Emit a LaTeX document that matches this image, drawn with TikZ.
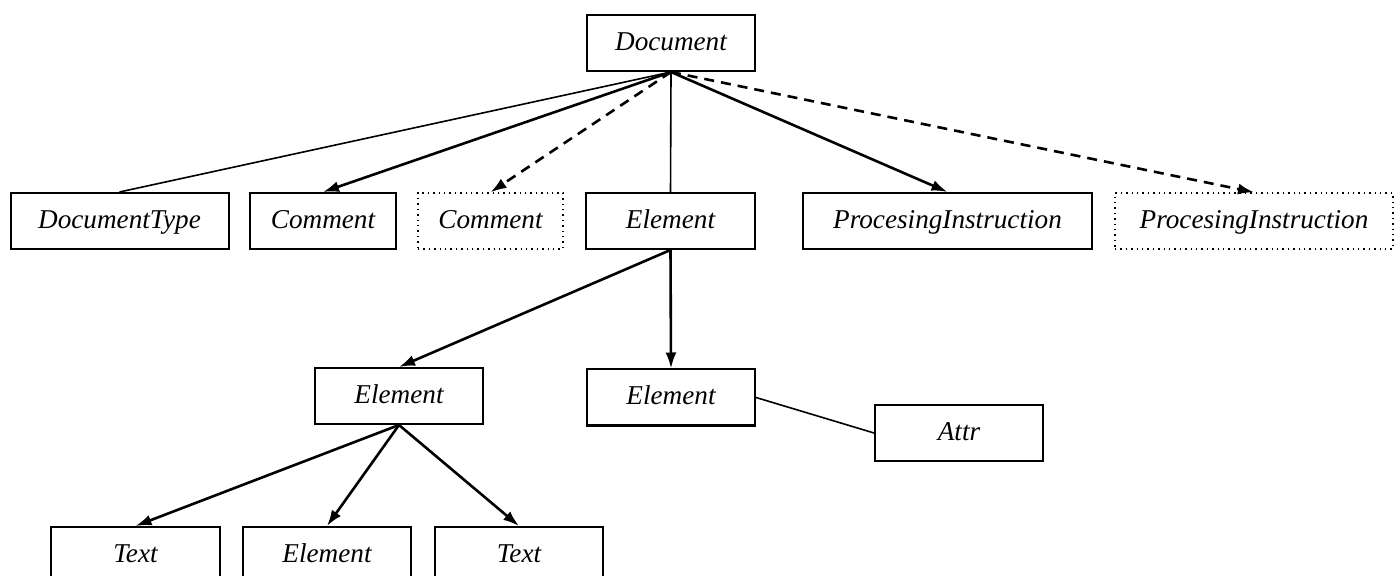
\documentclass[tikz,border=0pt]{standalone}
\usepackage{fontspec}
\setmainfont{Liberation Serif}
\usetikzlibrary{arrows.meta}
\tikzset{
  box/.style={draw, line width=1pt, rectangle, inner sep=0pt, minimum height=28pt,
    text height=9.6pt, text depth=2.4pt,
    font=\fontsize{13.6}{16}\selectfont\itshape},
  dbox/.style={box, line width=0.7pt, dotted},
  thin/.style={line width=0.8pt},
  thick arr/.style={line width=1.3pt, -{Latex[length=8pt,width=5.5pt]}},
  dash arr/.style={line width=1.3pt, dash pattern=on 5pt off 3.5pt, -{Latex[length=8pt,width=5.5pt]}}
}
\begin{document}
\begin{tikzpicture}[x=0.5pt,y=-0.5pt]
\useasboundingbox (0,0) rectangle (1395,576);
\node[box, minimum width=84pt] (doc) at (671,43) {Document};
\node[box, minimum width=109pt] (dt) at (119.5,221) {DocumentType};
\node[box, minimum width=73pt] (c1) at (323,221) {Comment};
\node[dbox, minimum width=72.5pt] (c2) at (490.5,221) {Comment};
\node[box, minimum width=84.5pt] (e1) at (670.5,221) {Element};
\node[box, minimum width=144.5pt] (pi1) at (947.5,221) {ProcesingInstruction};
\node[dbox, minimum width=139pt] (pi2) at (1254,221) {ProcesingInstruction};
\node[box, minimum width=84pt] (eL) at (399,396) {Element};
\node[box, minimum width=84pt] (eR) at (671,397.5) {Element};
\node[box, minimum width=84pt] (attr) at (959,433) {Attr};
\node[box, minimum width=84.5pt] (t1) at (135.5,555) {Text};
\node[box, minimum width=84pt] (e3) at (327,555) {Element};
\node[box, minimum width=84pt] (t2) at (519,555) {Text};

\draw[thin] (doc.south) -- (dt.north);
\draw[thick arr] (doc.south) -- (c1.north);
\draw[dash arr] (doc.south) -- (c2.north);
\draw[thin] (doc.south) -- (e1.north);
\draw[thick arr] (doc.south) -- (pi1.north);
\draw[dash arr] (doc.south) -- (pi2.north);
\draw[thick arr] (e1.south) -- (eL.north);
\draw[thick arr] (e1.south) -- (eR.north);
\draw[thin] (eR.east) -- (attr.west);
\draw[thick arr] (eL.south) -- (t1.north);
\draw[thick arr] (eL.south) -- (e3.north);
\draw[thick arr] (eL.south) -- (t2.north);
\end{tikzpicture}
\end{document}
